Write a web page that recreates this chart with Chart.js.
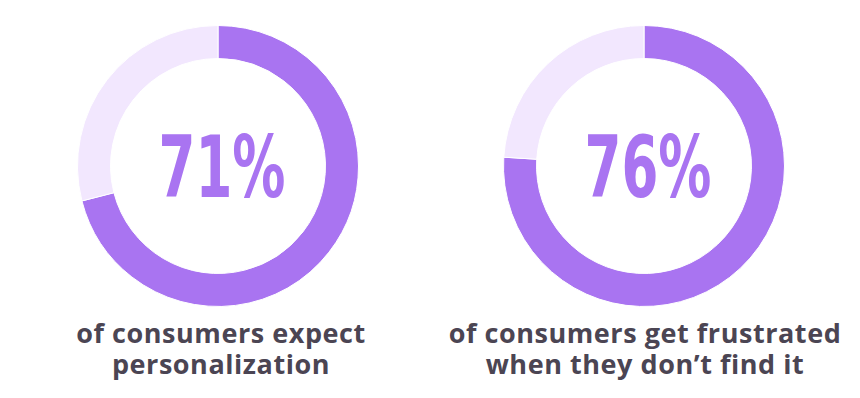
<!DOCTYPE html>
<html>
<head>
<meta charset="utf-8">
<script src="https://cdn.jsdelivr.net/npm/chart.js@4/dist/chart.umd.min.js"></script>
<style>
  body { margin: 0; background: #fff; }
  #wrap { position: relative; width: 860px; height: 398px; overflow: hidden; }
  .ring { position: absolute; top: 25px; width: 282px; height: 282px; }
  .caption {
    position: absolute; top: 317px; width: 440px; text-align: center;
    font-family: "Open Sans", sans-serif; font-weight: 700; font-size: 27px;
    line-height: 31px; color: #4b4553; letter-spacing: 0.55px;
  }
</style>
</head>
<body>
<div id="wrap">
  <div class="ring" style="left:77px"><canvas id="chartA" width="282" height="282"></canvas></div>
  <div class="ring" style="left:503px"><canvas id="chartB" width="282" height="282"></canvas></div>
  <div class="caption" id="capA" style="left:1px"></div>
  <div class="caption" id="capB" style="left:425px"></div>
</div>
<script>
// values
const shares = [71, 76];
const labels = ['Share', 'Rest'];
const captions = [
  ['of consumers expect', 'personalization'],
  ['of consumers get frustrated', 'when they don\u2019t find it']
];

const PURPLE = '#a974f1';
const LIGHT = '#f2e7fe';

// big percentage in the middle, squeezed horizontally to look condensed
const centerText = {
  id: 'centerText',
  afterDraw(chart, args, opts) {
    const ctx = chart.ctx;
    const meta = chart.getDatasetMeta(0).data[0];
    const txt = opts.text;
    ctx.save();
    ctx.font = 'bold 86px "DejaVu Sans Condensed", "DejaVu Sans", sans-serif';
    const w = ctx.measureText(txt).width;
    const sx = 127 / w;
    ctx.translate(meta.x + 4, meta.y + 31);
    ctx.scale(sx, 1);
    ctx.fillStyle = PURPLE;
    ctx.textAlign = 'center';
    ctx.textBaseline = 'alphabetic';
    ctx.fillText(txt, 0, 0);
    ctx.restore();
  }
};

function makeRing(id, value) {
  new Chart(document.getElementById(id), {
    type: 'doughnut',
    data: {
      labels,
      datasets: [{
        data: [value, 100 - value],
        backgroundColor: [PURPLE, LIGHT],
        borderColor: '#ffffff',
        borderWidth: 1
      }]
    },
    options: {
      responsive: false,
      animation: false,
      cutout: '76.5%',
      layout: { padding: 0 },
      plugins: {
        legend: { display: false },
        tooltip: { enabled: false },
        centerText: { text: value + '%' }
      }
    },
    plugins: [centerText]
  });
}

makeRing('chartA', shares[0]);
makeRing('chartB', shares[1]);

document.getElementById('capA').innerHTML = captions[0].join('<br>');
document.getElementById('capB').innerHTML = captions[1].join('<br>');
</script>
</body>
</html>
